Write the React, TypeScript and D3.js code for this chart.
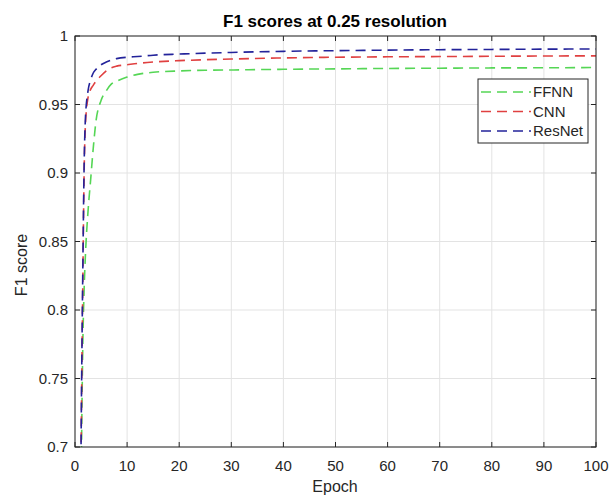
import React from 'react';
import * as d3 from 'd3';

const W = 614;
const H = 496;
const margin = { left: 75, right: 18, top: 36, bottom: 49 };

const epochs = [1, 1.25, 1.5, 1.75, 2, 2.5, 3, 3.5, 4, 5, 6, 7, 8, 10, 12, 15, 20, 25, 30, 40, 50, 60, 70, 80, 90, 100];
const ffnn = [0.6, 0.7, 0.775, 0.815, 0.84, 0.872, 0.895, 0.918, 0.937, 0.953, 0.96, 0.965, 0.967, 0.97, 0.972, 0.9735, 0.9745, 0.975, 0.9752, 0.9757, 0.976, 0.9763, 0.9765, 0.9767, 0.9768, 0.977];
const cnn = [0.61, 0.73, 0.82, 0.9, 0.935, 0.955, 0.961, 0.964, 0.967, 0.971, 0.9745, 0.9768, 0.978, 0.979, 0.98, 0.981, 0.982, 0.9827, 0.9832, 0.984, 0.9845, 0.9848, 0.985, 0.9852, 0.9854, 0.9855];
const resnet = [0.62, 0.74, 0.83, 0.905, 0.94, 0.96, 0.968, 0.973, 0.9755, 0.979, 0.981, 0.9825, 0.9835, 0.9845, 0.985, 0.986, 0.9868, 0.9875, 0.988, 0.9888, 0.9893, 0.9897, 0.99, 0.9902, 0.9904, 0.9905];

const seriesNames = ['FFNN', 'CNN', 'ResNet'];
const seriesValues = [ffnn, cnn, resnet];
const colors = ['#55d655', '#e04040', '#23239a'];

const xTicks = [0, 10, 20, 30, 40, 50, 60, 70, 80, 90, 100];
const yTicks = [0.7, 0.75, 0.8, 0.85, 0.9, 0.95, 1];

const font = "'Liberation Sans', Arial, sans-serif";
const ink = '#262626';

export default function App() {
  const x = d3.scaleLinear().domain([0, 100]).range([margin.left, W - margin.right]);
  const y = d3.scaleLinear().domain([0.7, 1]).range([H - margin.bottom, margin.top]);
  const line = d3
    .line<number>()
    .x((d, i) => x(epochs[i]))
    .y(d => y(d))
    .curve(d3.curveMonotoneX);

  const [x0, x1] = x.range();
  const [yb, yt] = y.range();
  const tick = 5;

  // legend box
  const lg = { x: 478, y: 79, w: 110, h: 64 };

  return (
    <svg width={W} height={H} style={{ position: 'absolute', left: 0, top: 0, background: '#fff' }} fontFamily={font}>
      <defs>
        <clipPath id="plot">
          <rect x={x0} y={yt} width={x1 - x0} height={yb - yt} />
        </clipPath>
      </defs>
      <rect x={x0} y={yt} width={x1 - x0} height={yb - yt} fill="#fff" />
      {/* grid */}
      {xTicks.map(t => (
        <line key={'gx' + t} x1={x(t)} x2={x(t)} y1={yt} y2={yb} stroke="#e3e3e3" strokeWidth={1} />
      ))}
      {yTicks.map(t => (
        <line key={'gy' + t} x1={x0} x2={x1} y1={y(t)} y2={y(t)} stroke="#e3e3e3" strokeWidth={1} />
      ))}
      {/* curves */}
      <g clipPath="url(#plot)">
        {seriesValues.map((vals, i) => (
          <path key={seriesNames[i]} d={line(vals) || ''} fill="none" stroke={colors[i]} strokeWidth={1.6} strokeDasharray="10,6" />
        ))}
      </g>
      {/* box and ticks */}
      <rect x={x0} y={yt} width={x1 - x0} height={yb - yt} fill="none" stroke={ink} strokeWidth={1} />
      {xTicks.map(t => (
        <g key={'tx' + t}>
          <line x1={x(t)} x2={x(t)} y1={yb} y2={yb - tick} stroke={ink} />
          <line x1={x(t)} x2={x(t)} y1={yt} y2={yt + tick} stroke={ink} />
          <text x={x(t)} y={471} textAnchor="middle" fontSize={15} fill={ink}>
            {t}
          </text>
        </g>
      ))}
      {yTicks.map(t => (
        <g key={'ty' + t}>
          <line x1={x0} x2={x0 + tick} y1={y(t)} y2={y(t)} stroke={ink} />
          <line x1={x1} x2={x1 - tick} y1={y(t)} y2={y(t)} stroke={ink} />
          <text x={68} y={y(t)} dy="0.35em" textAnchor="end" fontSize={15} fill={ink}>
            {d3.format('~g')(t)}
          </text>
        </g>
      ))}
      {/* labels */}
      <text x={335} y={27} textAnchor="middle" fontSize={17} fontWeight="bold" fill="#000">
        F1 scores at 0.25 resolution
      </text>
      <text x={335} y={492} textAnchor="middle" fontSize={16} fill={ink}>
        Epoch
      </text>
      <text transform={`translate(27,265) rotate(-90)`} textAnchor="middle" fontSize={16} fill={ink}>
        F1 score
      </text>
      {/* legend */}
      <rect x={lg.x} y={lg.y} width={lg.w} height={lg.h} fill="#fff" stroke={ink} strokeWidth={1} />
      {seriesNames.map((name, i) => {
        const cy = lg.y + 13 + i * 19.5;
        return (
          <g key={'lg' + name}>
            <line x1={lg.x + 3} x2={lg.x + 53} y1={cy} y2={cy} stroke={colors[i]} strokeWidth={1.6} strokeDasharray="10,6" />
            <text x={lg.x + 55} y={cy} dy="0.35em" fontSize={15} fill={ink}>
              {name}
            </text>
          </g>
        );
      })}
    </svg>
  );
}
